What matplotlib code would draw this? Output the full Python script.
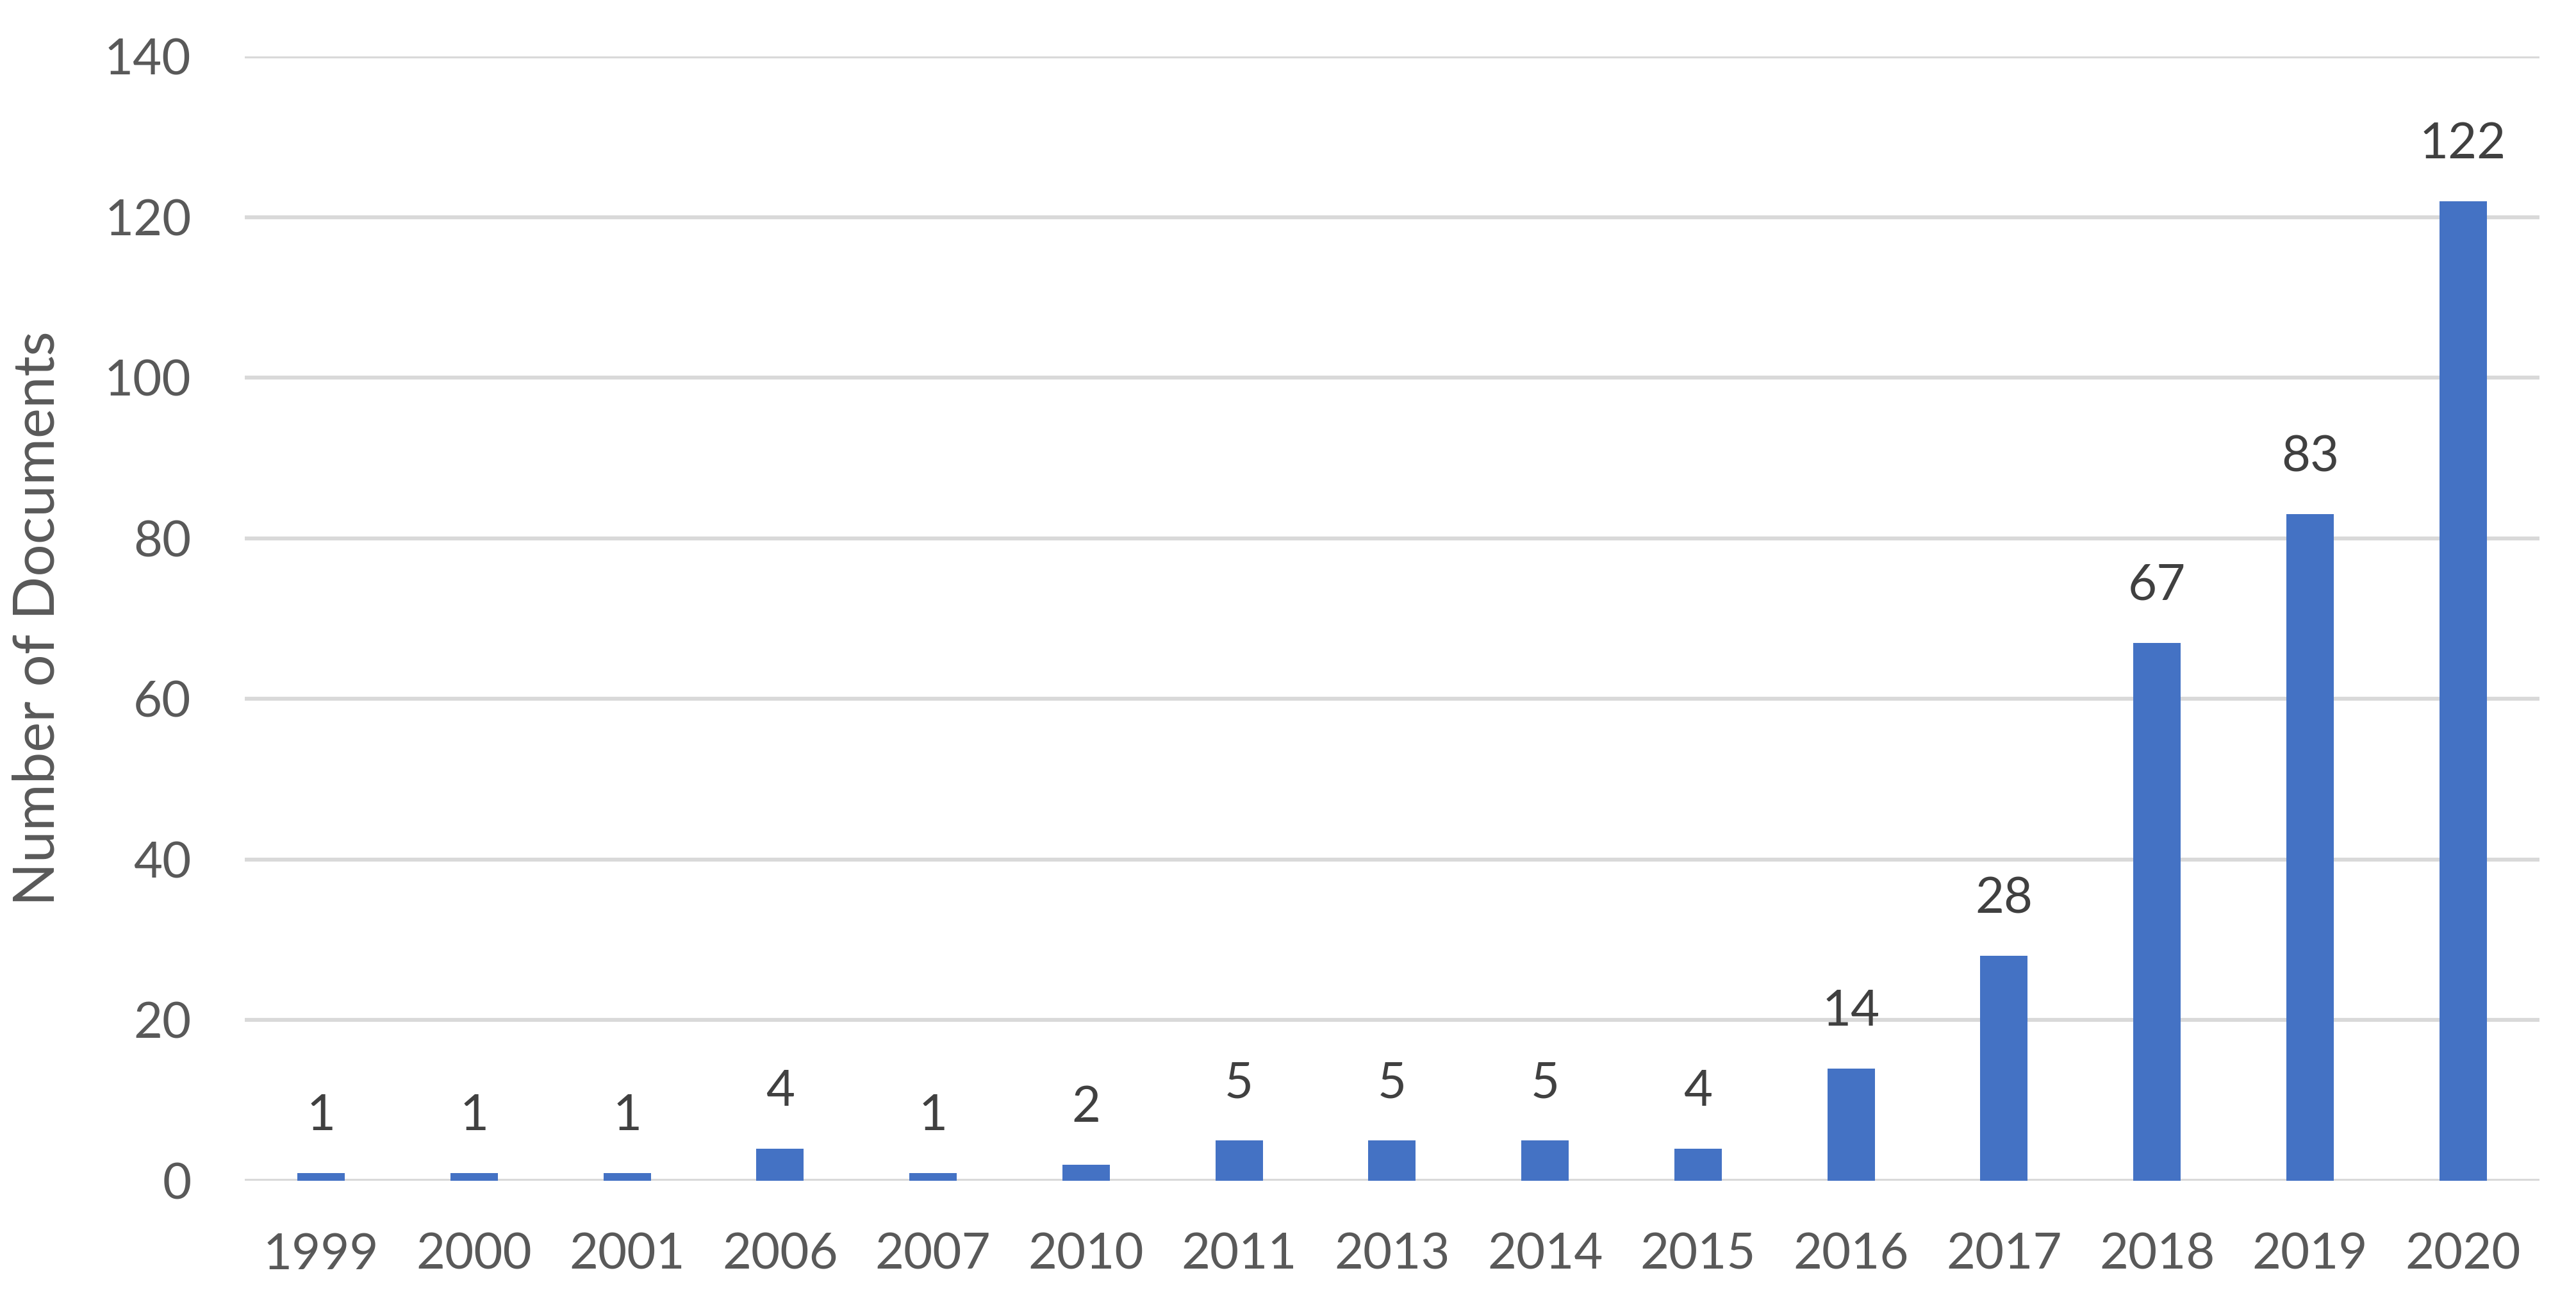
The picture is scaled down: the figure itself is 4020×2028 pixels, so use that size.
import matplotlib.pyplot as plt

years = ["1999", "2000", "2001", "2006", "2007", "2010", "2011", "2013",
         "2014", "2015", "2016", "2017", "2018", "2019", "2020"]
docs = [1, 1, 1, 4, 1, 2, 5, 5, 5, 4, 14, 28, 67, 83, 122]

plt.rcParams['font.family'] = ['Lato', 'DejaVu Sans']

fig = plt.figure(figsize=(20.1, 10.14), dpi=200)
ax = fig.add_axes([0.095, 0.0917, 0.8908, 0.8649])

x = range(len(years))
bars = ax.bar(x, docs, width=0.31, color="#4472C4", zorder=3)

# value labels above bars
for xi, v in zip(x, docs):
    ax.annotate(str(v), (xi, v), xytext=(0, 19), textcoords="offset points",
                ha="center", va="bottom", fontsize=28, color="#404040")

ax.set_xlim(-0.5, len(years) - 0.5)
ax.set_ylim(0, 140)
ax.set_yticks(range(0, 141, 20))
ax.set_xticks(list(x))
ax.set_xticklabels(years)

ax.grid(axis="y", color="#D9D9D9", linewidth=2.2, zorder=0)
ax.set_axisbelow(True)
for s in ax.spines.values():
    s.set_visible(False)

ax.tick_params(axis="both", length=0, labelsize=28, labelcolor="#595959")
ax.tick_params(axis="y", pad=30)
ax.tick_params(axis="x", pad=29)

ax.set_ylabel("Number of Documents", fontsize=32, color="#595959")
ax.yaxis.set_label_coords(-0.0785, 0.5)

fig.savefig("out.png", dpi=200)
